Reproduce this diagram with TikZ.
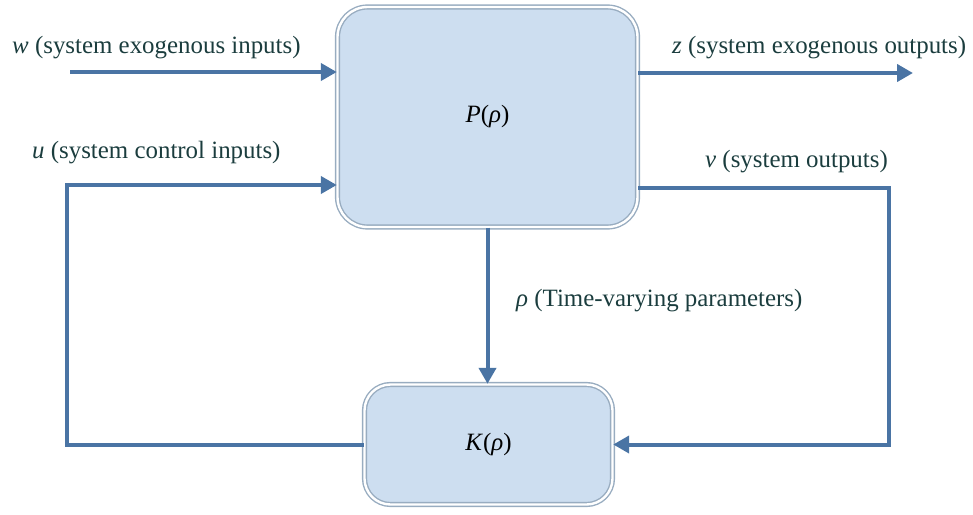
\documentclass[tikz,border=0pt]{standalone}
\usepackage{fontspec}
\setmainfont{Liberation Serif}
\usetikzlibrary{arrows.meta,shadows}
\definecolor{wirecol}{HTML}{4A74A4}
\definecolor{boxfill}{HTML}{CDDEF0}
\definecolor{boxrim}{HTML}{98ACC0}
\definecolor{boxshade}{HTML}{5F7F9F}
\definecolor{labeltext}{HTML}{1B3D3E}
\begin{document}
\begin{tikzpicture}[x=1pt,y=-1pt,
  block/.style={draw=boxrim, line width=1.4pt, double=white, double distance=2.4pt,
    fill=boxfill, inner sep=0pt,
    drop shadow={shadow xshift=0pt, shadow yshift=-1.8pt, fill=boxshade, opacity=0.8},
    font=\fontsize{24.9}{30}\selectfont},
  wire/.style={draw=wirecol, line width=4pt},
  tip/.style={-{Triangle[length=16pt,width=17pt]}},
  lbl/.style={text=labeltext, font=\fontsize{24.9}{30}\selectfont,
    inner sep=0pt, anchor=base west}]
\useasboundingbox (0,0) rectangle (973,514);

% plant and controller blocks
\node[block, rounded corners=30pt, minimum width=300pt, minimum height=220pt]
  (P) at (487.5,117) {\textit{P}(\textit{ρ})};
\node[block, rounded corners=26pt, minimum width=248pt, minimum height=120pt]
  (K) at (488.5,444.5) {\textit{K}(\textit{ρ})};

% free ends and bends of the connectors
\coordinate (wstart) at (70,72);
\coordinate (zend) at (913,73);
\coordinate (ucorner) at (67,185);
\coordinate (vcorner) at (889,188);

% signals
\draw[wire,tip] (wstart) -- (wstart -| P.west);
\draw[wire,tip] (zend -| P.east) -- (zend);
\draw[wire,tip] (K.west) -| (ucorner) -- (ucorner -| P.west);
\draw[wire,tip] (vcorner -| P.east) -- (vcorner) |- (K.east);
\draw[wire,tip] (P.south) -- (P.south |- K.north);

% signal labels
\node[lbl] (wlabel) at (12,53) {\textit{w} (system exogenous inputs)};
\node[lbl] (ulabel) at (32,158) {\textit{u} (system control inputs)};
\node[lbl] (zlabel) at (672,53) {\textit{z} (system exogenous outputs)};
\node[lbl] (vlabel) at (705,167) {\textit{v} (system outputs)};
\node[lbl] (rholabel) at (516,306) {\textit{ρ} (Time-varying parameters)};
\end{tikzpicture}
\end{document}
